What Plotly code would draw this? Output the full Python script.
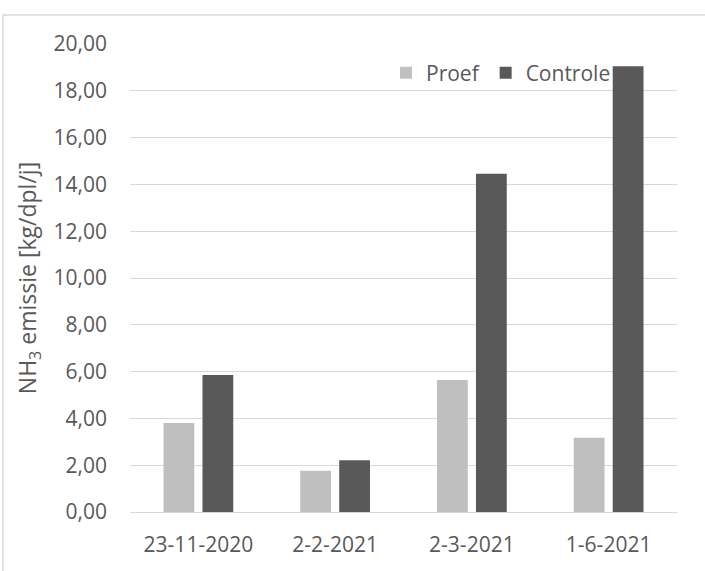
import plotly.graph_objects as go

# Meetdata: NH3-emissie per meetdatum
datums = ["23-11-2020", "2-2-2021", "2-3-2021", "1-6-2021"]
proef = [3.80, 1.76, 5.64, 3.17]
controle = [5.85, 2.21, 14.45, 19.05]

series_namen = ["Proef", "Controle"]
kleuren = ["#bfbfbf", "#595959"]
tekstkleur = "#595959"
rasterkleur = "#d9d9d9"
lettertype = "Open Sans"

W, H = 705, 571
ML, MR, MT, MB = 130, 28, 44, 59

fig = go.Figure()
for naam, waarden, kleur in zip(series_namen, [proef, controle], kleuren):
    fig.add_trace(go.Bar(
        x=datums, y=waarden, name=naam,
        marker=dict(color=kleur, line=dict(width=0)),
    ))

# Kader rond de grafiek (links en boven), in paper-coordinaten
pw, ph = W - ML - MR, H - MT - MB
def px_x(p):
    return (p - ML) / pw
def px_y(p):
    return (H - MB - p) / ph

fig.add_shape(type="line", xref="paper", yref="paper",
              x0=px_x(3), x1=px_x(W + 2), y0=px_y(15), y1=px_y(15),
              line=dict(color=rasterkleur, width=1.5))
fig.add_shape(type="line", xref="paper", yref="paper",
              x0=px_x(3), x1=px_x(3), y0=px_y(15), y1=px_y(H + 2),
              line=dict(color=rasterkleur, width=1.5))

fig.update_layout(
    width=W, height=H,
    margin=dict(l=ML, r=MR, t=MT, b=MB, pad=0),
    paper_bgcolor="white", plot_bgcolor="white",
    separators=",.",
    barmode="group", bargap=0.43, bargroupgap=0.21,
    font=dict(family=lettertype, size=21, color=tekstkleur),
    legend=dict(
        orientation="h", x=px_x(386), y=px_y(73), xanchor="left", yanchor="middle",
        bgcolor="rgba(0,0,0,0)", font=dict(size=21, color=tekstkleur),
        itemwidth=30, tracegroupgap=0,
    ),
    xaxis=dict(
        showgrid=False, showline=False, ticks="", zeroline=False,
        tickfont=dict(size=21, color=tekstkleur), ticklabelstandoff=18,
    ),
    yaxis=dict(
        range=[0, 20], dtick=2, tickformat=".2f",
        showgrid=True, gridcolor=rasterkleur, gridwidth=1.3,
        zeroline=True, zerolinecolor=rasterkleur, zerolinewidth=1.3,
        showline=False, ticks="",
        tickfont=dict(size=21, color=tekstkleur), ticklabelstandoff=22,
        title=dict(text="NH<sub>3</sub> emissie [kg/dpl/j]",
                   font=dict(size=23, color=tekstkleur), standoff=10),
    ),
)

fig.write_html("out.html")
